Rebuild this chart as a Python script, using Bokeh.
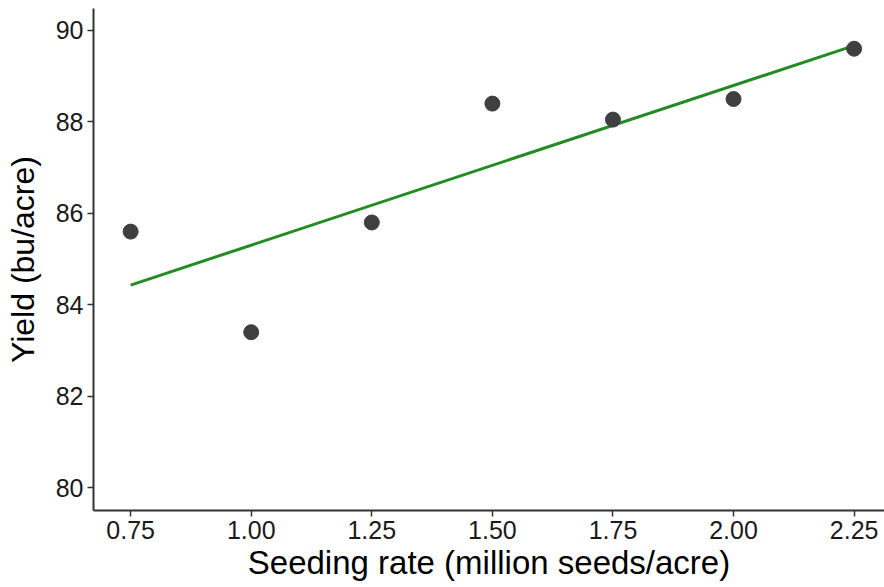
import numpy as np
from bokeh.plotting import figure
from bokeh.models import Range1d, FixedTicker, CustomJSTickFormatter
from bokeh.embed import file_html
from bokeh.resources import INLINE

# Data
seeding_rate = [0.75, 1.00, 1.25, 1.50, 1.75, 2.00, 2.25]
yield_bu = [85.6, 83.4, 85.8, 88.4, 88.05, 88.5, 89.6]
x_ticks = [0.75, 1.00, 1.25, 1.50, 1.75, 2.00, 2.25]
y_ticks = [80, 82, 84, 86, 88, 90]

# Linear fit (as in geom_smooth(method="lm"))
slope, intercept = np.polyfit(seeding_rate, yield_bu, 1)
fit_x = [min(seeding_rate), max(seeding_rate)]
fit_y = [intercept + slope * v for v in fit_x]

FONT = "Liberation Sans"

p = figure(width=884, height=587, output_backend="svg", toolbar_location=None,
           x_range=Range1d(0.673, 2.313), y_range=Range1d(79.5, 90.48),
           min_border_left=93, min_border_right=0, min_border_top=8, min_border_bottom=77)

p.line(fit_x, fit_y, line_color="#228B22", line_width=3)
p.scatter(seeding_rate, yield_bu, size=15, fill_color="#3f3f3f", line_color="#3f3f3f")

p.xgrid.visible = False
p.ygrid.visible = False
p.outline_line_color = None

p.xaxis.ticker = FixedTicker(ticks=x_ticks)
p.yaxis.ticker = FixedTicker(ticks=y_ticks)
p.xaxis.formatter = CustomJSTickFormatter(code="return tick.toFixed(2);")

p.xaxis.axis_label = "Seeding rate (million seeds/acre)"
p.yaxis.axis_label = "Yield (bu/acre)"

for ax in (p.xaxis, p.yaxis):
    ax.axis_line_color = "#333333"
    ax.axis_line_width = 2
    ax.major_tick_line_color = "#333333"
    ax.major_tick_line_width = 1.5
    ax.major_tick_out = 6
    ax.major_tick_in = 0
    ax.minor_tick_line_color = None
    ax.major_label_text_font = FONT
    ax.major_label_text_font_size = "25px"
    ax.major_label_text_color = "#1a1a1a"
    ax.axis_label_text_font = FONT
    ax.axis_label_text_font_style = "normal"
    ax.axis_label_text_color = "#000000"
    ax.major_label_standoff = 4

p.xaxis.axis_label_text_font_size = "33px"
p.yaxis.axis_label_text_font_size = "32px"
p.xaxis.axis_label_standoff = 2
p.yaxis.axis_label_standoff = 12

open("out.html", "w").write(file_html(p, INLINE))
